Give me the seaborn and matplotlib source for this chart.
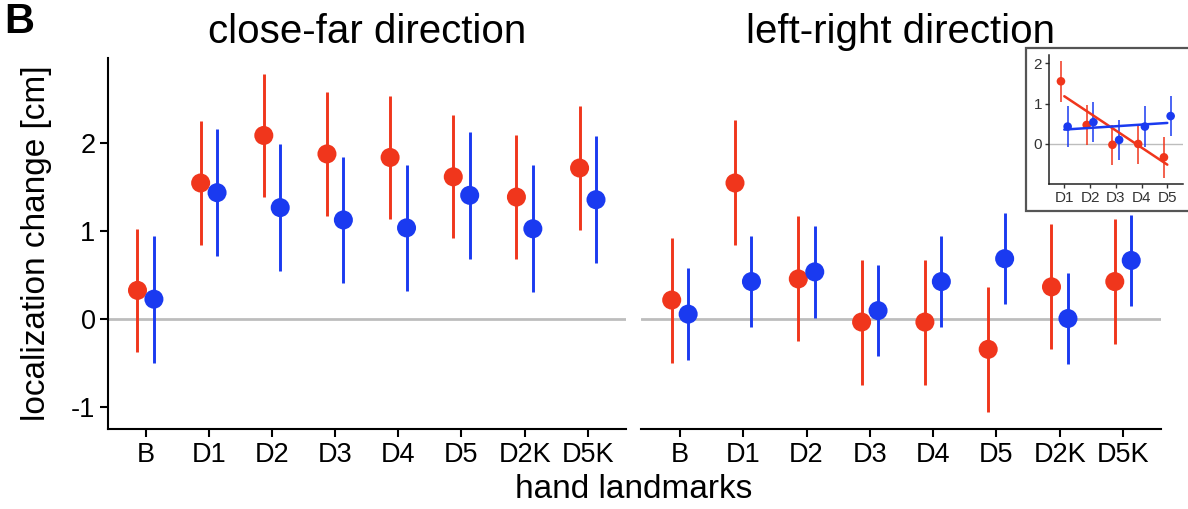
"""
Localization change per hand landmark, close-far vs left-right direction
"""

import numpy as np
import pandas as pd
import matplotlib

matplotlib.use("Agg")
import matplotlib.pyplot as plt
from matplotlib.patches import Rectangle
import seaborn as sns

# values (cm)
landmarks = ["B", "D1", "D2", "D3", "D4", "D5", "D2K", "D5K"]
groups = ["red", "blue"]

closefar_red = [0.33, 1.55, 2.09, 1.88, 1.84, 1.62, 1.39, 1.72]
closefar_red_err = [0.70, 0.70, 0.70, 0.70, 0.70, 0.70, 0.70, 0.70]
closefar_blue = [0.23, 1.44, 1.27, 1.13, 1.04, 1.41, 1.03, 1.36]
closefar_blue_err = [0.72, 0.72, 0.72, 0.72, 0.72, 0.72, 0.72, 0.72]

leftright_red = [0.22, 1.55, 0.46, -0.03, -0.03, -0.34, 0.37, 0.43]
leftright_red_err = [0.71, 0.71, 0.71, 0.71, 0.71, 0.71, 0.71, 0.71]
leftright_blue = [0.06, 0.43, 0.54, 0.10, 0.43, 0.69, 0.01, 0.67]
leftright_blue_err = [0.52, 0.52, 0.52, 0.52, 0.52, 0.52, 0.52, 0.52]

# inset: left-right, digits only, smaller error bars
inset_landmarks = ["D1", "D2", "D3", "D4", "D5"]
inset_red = [1.55, 0.47, -0.02, 0.00, -0.33]
inset_red_err = [0.50, 0.50, 0.50, 0.50, 0.50]
inset_blue = [0.43, 0.54, 0.10, 0.43, 0.69]
inset_blue_err = [0.50, 0.50, 0.50, 0.50, 0.50]

RED = "#f0361c"
BLUE = "#1a3af0"
palette = {"red": RED, "blue": BLUE}
OFFSET = 0.13


def make_frame(labels, red, red_err, blue, blue_err):
    rows = []
    for grp, vals, errs, shift in [("red", red, red_err, -OFFSET),
                                   ("blue", blue, blue_err, OFFSET)]:
        for i, (lab, v, e) in enumerate(zip(labels, vals, errs)):
            rows.append({"landmark": lab, "group": grp, "pos": i + shift,
                         "mean": v, "err": e})
    return pd.DataFrame(rows)


def draw_panel(ax, df, ms, elw, zlw):
    for grp in groups:
        sub = df[df["group"] == grp]
        ax.vlines(sub["pos"], sub["mean"] - sub["err"], sub["mean"] + sub["err"],
                  color=palette[grp], lw=elw, zorder=2)
    sns.scatterplot(data=df, x="pos", y="mean", hue="group", palette=palette,
                    s=ms ** 2, linewidth=0, legend=False, ax=ax, zorder=3)
    ax.axhline(0, color="#bdbdbd", lw=zlw, zorder=1)


sns.set_theme(style="ticks")
plt.rcParams["font.family"] = ["Liberation Sans", "DejaVu Sans"]
plt.rcParams["axes.unicode_minus"] = False
plt.rcParams["text.color"] = "black"
plt.rcParams["axes.labelcolor"] = "black"

fig = plt.figure(figsize=(11.88, 5.09), dpi=100)
ylim = (-1.245, 2.97)

ax_l = fig.add_axes([108 / 1188, 1 - 429 / 509, 518 / 1188, 371 / 509])
ax_r = fig.add_axes([641 / 1188, 1 - 429 / 509, 520 / 1188, 371 / 509])

cf = make_frame(landmarks, closefar_red, closefar_red_err, closefar_blue, closefar_blue_err)
lr = make_frame(landmarks, leftright_red, leftright_red_err, leftright_blue, leftright_blue_err)

draw_panel(ax_l, cf, 13.7, 2.1, 2.0)
draw_panel(ax_r, lr, 13.7, 2.1, 2.0)

for ax, title, xl in [(ax_l, "close-far direction", (-0.597, 7.605)),
                      (ax_r, "left-right direction", (-0.615, 7.60))]:
    ax.set_xlim(*xl)
    ax.set_ylim(*ylim)
    ax.set_xticks(range(len(landmarks)))
    ax.set_xticklabels(landmarks)
    ax.set_xlabel("")
    ax.set_ylabel("")
    ax.set_title(title, fontsize=29, pad=11, color="black")
    ax.tick_params(axis="both", labelsize=19.5, width=1.5, length=6, color="black",
                   labelcolor="black", pad=3)
    for sp in ax.spines.values():
        sp.set_linewidth(1.5)
        sp.set_color("black")
    sns.despine(ax=ax)

ax_l.set_yticks([-1, 0, 1, 2])
ax_l.set_ylabel("localization change [cm]", fontsize=24, labelpad=14)
ax_r.spines["left"].set_visible(False)
ax_r.set_yticks([])

fig.text(634 / 1188, 1 - 490 / 509, "hand landmarks", fontsize=24,
         ha="center", va="center")
fig.text(4 / 1188, 1 - 33 / 509, "B", fontsize=30, fontweight="bold",
         ha="left", va="baseline")

# inset frame and axes
frame = Rectangle((1026 / 1188, 1 - 211 / 509), 0.2, (211 - 48) / 509,
                  transform=fig.transFigure, facecolor="white", edgecolor="#555555",
                  lw=1.6, zorder=1)
fig.add_artist(frame)

ax_in = fig.add_axes([1049 / 1188, 1 - 184 / 509, 134 / 1188, 129 / 509], zorder=2)
ins = make_frame(inset_landmarks, inset_red, inset_red_err, inset_blue, inset_blue_err)
draw_panel(ax_in, ins, 6.2, 1.1, 1.0)

xs = np.arange(len(inset_landmarks))
sns.regplot(x=xs, y=inset_red, scatter=False, ci=None, color=RED,
            line_kws={"lw": 1.8, "zorder": 4}, ax=ax_in)
sns.regplot(x=xs, y=inset_blue, scatter=False, ci=None, color=BLUE,
            line_kws={"lw": 1.8, "zorder": 4}, ax=ax_in)

ax_in.set_xlim(-0.594, 4.61)
ax_in.set_ylim(-0.99, 2.2)
ax_in.set_xticks(xs)
ax_in.set_xticklabels(inset_landmarks)
ax_in.set_yticks([0, 1, 2])
ax_in.set_xlabel("")
ax_in.set_ylabel("")
ax_in.patch.set_alpha(0)
ax_in.tick_params(axis="both", labelsize=11, width=1.0, length=3, color="#333333",
                  labelcolor="#333333", pad=2)
for sp in ax_in.spines.values():
    sp.set_linewidth(1.1)
    sp.set_color("#222222")
sns.despine(ax=ax_in)

fig.savefig("out.png", dpi=100)
